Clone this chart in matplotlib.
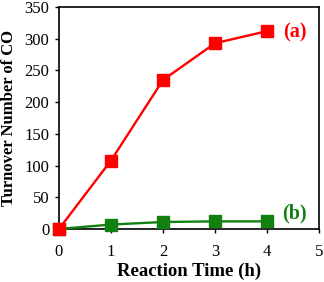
import matplotlib

matplotlib.use("Agg")
import matplotlib.pyplot as plt

# Data
time_h = [0, 1, 2, 3, 4]
ton_a = [0, 108, 235, 293, 312]
ton_b = [0, 7, 11, 12, 12]
x_ticks = [0, 1, 2, 3, 4, 5]
y_ticks = [0, 50, 100, 150, 200, 250, 300, 350]

plt.rcParams["font.family"] = ["Liberation Serif", "DejaVu Serif"]

red = "#ff0000"
green = "#118011"

fig = plt.figure(figsize=(3.24, 2.82), dpi=100)
ax = fig.add_axes([0.182, 0.188, 0.803, 0.787])

ax.plot(time_h, ton_b, "s-", color=green, lw=1.7, ms=8, clip_on=False, zorder=3)
ax.plot(time_h, ton_a, "s-", color=red, lw=1.7, ms=8, clip_on=False, zorder=4)

ax.text(4.31, 310, "(a)", color=red, fontsize=14.5, fontweight="bold", va="center", ha="left")
ax.text(4.29, 25, "(b)", color=green, fontsize=14.5, fontweight="bold", va="center", ha="left")

ax.set_xlim(0, 5)
ax.set_ylim(0, 350)
ax.set_xticks(x_ticks)
ax.set_yticks(y_ticks)
ax.tick_params(labelsize=12, direction="out", length=3, width=1)
ax.tick_params(axis="x", pad=8)
ax.tick_params(axis="y", pad=4)
for s in ax.spines.values():
    s.set_linewidth(1.2)

ax.set_xlabel("Reaction Time (h)", fontsize=13.5, fontweight="bold", labelpad=2)
ax.set_ylabel("Turnover Number of CO", fontsize=12, fontweight="bold", labelpad=5)

fig.savefig("out.png", dpi=100)
